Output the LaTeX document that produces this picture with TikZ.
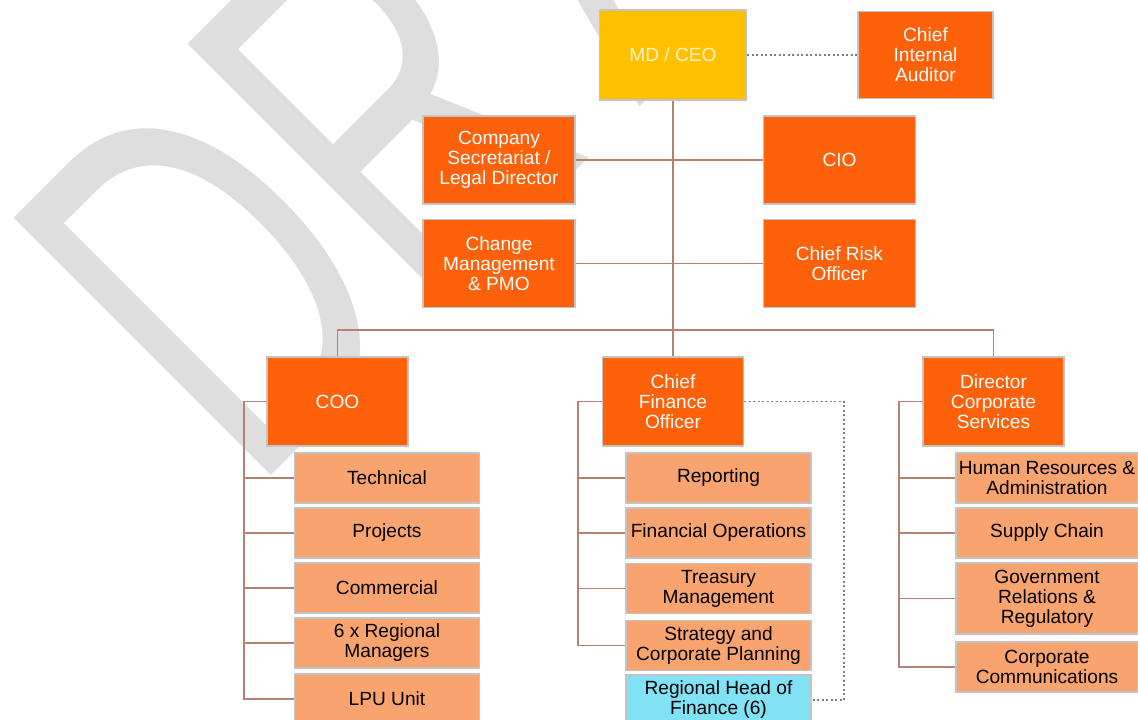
\documentclass[tikz,border=0pt]{standalone}
\usepackage{fontspec}
\setmainfont{Liberation Sans}
\definecolor{ceoyellow}{RGB}{255,192,0}
\definecolor{ceotext}{RGB}{255,243,200}
\definecolor{headorange}{RGB}{255,96,10}
\definecolor{unitorange}{RGB}{249,164,110}
\definecolor{regcyan}{RGB}{128,226,244}
\definecolor{linkbrown}{RGB}{180,130,112}
\definecolor{edgegrey}{RGB}{196,196,196}
\definecolor{wmgrey}{RGB}{222,222,222}
\begin{document}
\begin{tikzpicture}[x=0.025cm, y=-0.025cm,
  box/.style={draw=edgegrey, line width=0.8pt, align=center, inner sep=1pt,
    font=\fontsize{13.6}{14.2}\selectfont},
  topbox/.style={box, fill=ceoyellow, text=ceotext, minimum width=3.675cm, minimum height=2.25cm},
  auditbox/.style={box, fill=headorange, text=white, minimum width=3.375cm, minimum height=2.175cm},
  staffbox/.style={box, fill=headorange, text=white, minimum width=3.8cm, minimum height=2.2cm},
  headbox/.style={box, fill=headorange, text=white, minimum width=3.525cm, minimum height=2.225cm},
  unitbox/.style={box, fill=unitorange, text=black, minimum width=4.625cm, minimum height=1.25cm},
  regbox/.style={unitbox, fill=regcyan},
  link/.style={draw=linkbrown, line width=0.9pt},
  dotlink/.style={draw=gray, line width=0.8pt, dash pattern=on 1.6pt off 1.6pt},
  watermark/.style={text=wmgrey, inner sep=0pt, font=\fontsize{276.7}{280}\selectfont}]
\useasboundingbox (0,0) rectangle (1138,719);
\begin{scope}
  \clip (0,0) rectangle (1138,719);
  \node[watermark, anchor=base west, rotate=45, yscale=1.36, xscale=0.88, transform shape] (wm) at (251,496) {DR\kern0.16em AFT};
\end{scope}
%%
\node[topbox] (ceo) at (673,55) {MD / CEO};
\node[auditbox] (audit) at (925.5,55) {Chief\\Internal\\Auditor};
\node[staffbox] (sec) at (499,160) {Company\\Secretariat /\\Legal Director};
\node[staffbox] (cio) at (839.5,160) {CIO};
\node[staffbox] (chg) at (499,263.5) {Change\\Management\\\& PMO};
\node[staffbox] (risk) at (839.5,263.5) {Chief Risk\\Officer};
%%
\node[headbox] (coo) at (337.5,401.5) {COO};
\node[headbox] (cfo) at (673,401.5) {Chief\\Finance\\Officer};
\node[headbox] (dcs) at (993.5,401.5) {Director\\Corporate\\Services};
%%
\node[unitbox] (tech) at (387,478) {Technical};
\node[unitbox] (proj) at (387,533) {Projects};
\node[unitbox] (comm) at (387,588) {Commercial};
\node[unitbox] (regman) at (387,643) {6 x Regional\\Managers};
\node[unitbox] (lpu) at (387,699) {LPU Unit};
%%
\node[unitbox] (rep) at (718.5,478) {Reporting};
\node[unitbox] (finops) at (718.5,533) {Financial Operations};
\node[unitbox] (treas) at (718.5,588.5) {Treasury\\Management};
\node[unitbox] (strat) at (718.5,645.5) {Strategy and\\Corporate Planning};
\node[regbox] (reghead) at (718.5,700) {Regional Head of\\Finance (6)};
%%
\node[unitbox, minimum width=4.55cm] (hr) at (1047,478) {Human Resources \&\\Administration};
\node[unitbox, minimum width=4.55cm] (supply) at (1047,533) {Supply Chain};
\node[unitbox, minimum width=4.55cm, minimum height=1.775cm] (gov) at (1047,598.5) {Government\\Relations \&\\Regulatory};
\node[unitbox, minimum width=4.55cm] (corpcomm) at (1047,667) {Corporate\\Communications};
%%
\coordinate (bus) at (673,330);
\draw[link] (ceo.south) -- (cfo.north);
\draw[link] (coo.north) |- (bus) -| (dcs.north);
\draw[link] (sec.east) -- (cio.west);
\draw[link] (chg.east) -- (risk.west);
\draw[dotlink] (ceo.east) -- (audit.west);
%%
\coordinate (coospine) at (244,401.5);
\draw[link] (coo.west) -- (coospine) |- (lpu.west);
\foreach \u in {tech,proj,comm,regman}
  \draw[link] (coospine |- \u.west) -- (\u.west);
\coordinate (cfospine) at (578,401.5);
\draw[link] (cfo.west) -- (cfospine) |- (strat.west);
\foreach \u in {rep,finops,treas}
  \draw[link] (cfospine |- \u.west) -- (\u.west);
\coordinate (dcsspine) at (899,401.5);
\draw[link] (dcs.west) -- (dcsspine) |- (corpcomm.west);
\foreach \u in {hr,supply,gov}
  \draw[link] (dcsspine |- \u.west) -- (\u.west);
%%
\coordinate (cforail) at (844,401.5);
\draw[dotlink] (cfo.east) -- (cforail) |- (reghead.east);
\end{tikzpicture}
\end{document}
